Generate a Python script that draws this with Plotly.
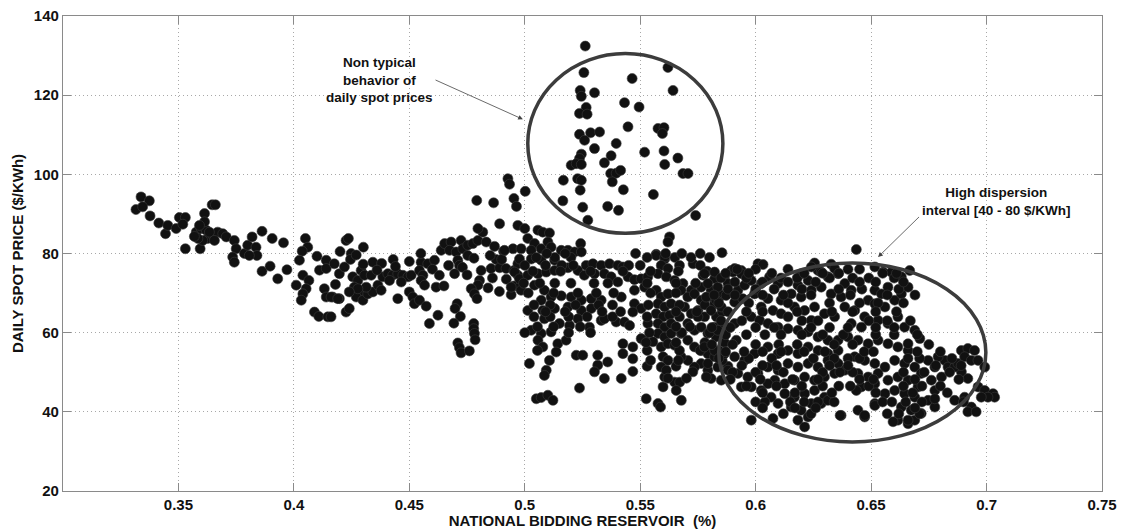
import plotly.graph_objects as go

# Reservoir level (fraction) vs daily spot price ($/KWh)
low_reservoir = [
    (0.3338, 94.3), (0.3374, 93.3), (0.3316, 91.1), (0.3345, 91.8), (0.3377, 89.5), (0.3415, 87.7),
    (0.3444, 85.0), (0.3454, 87.1), (0.349, 86.3), (0.3504, 89.1), (0.353, 89.1), (0.3519, 87.4),
    (0.353, 81.2), (0.3594, 81.2), (0.3613, 90.1), (0.3646, 92.3), (0.366, 92.3), (0.3577, 85.4),
    (0.3598, 86.3), (0.362, 85.9), (0.3627, 83.8), (0.3649, 84.6), (0.367, 85.4), (0.3692, 85.0),
    (0.3707, 84.2), (0.3605, 83.3), (0.3584, 83.8), (0.3569, 84.3), (0.3634, 85.4), (0.3656, 83.3),
    (0.3613, 88.0), (0.3591, 87.1), (0.3742, 83.3), (0.375, 81.2), (0.3735, 79.1), (0.3742, 77.8),
    (0.3786, 80.0), (0.38, 82.1), (0.3819, 84.2), (0.3836, 81.6), (0.384, 79.5), (0.3807, 79.5),
    (0.3862, 85.6), (0.3906, 83.8), (0.3955, 82.7), (0.3862, 75.5), (0.3897, 76.8), (0.393, 73.6),
    (0.397, 75.9), (0.405, 83.8), (0.406, 81.6), (0.4036, 80.6), (0.4024, 78.3), (0.4039, 74.5),
    (0.4065, 73.2), (0.401, 72.0), (0.4053, 71.1), (0.4039, 69.8), (0.4032, 68.2), (0.41, 79.3),
    (0.414, 78.3), (0.4111, 75.8), (0.414, 76.2), (0.4175, 77.4), (0.4197, 74.9), (0.4132, 71.1),
    (0.414, 69.0), (0.4168, 69.0), (0.4197, 68.6), (0.4089, 65.2), (0.4108, 64.1), (0.4147, 64.0),
]

mid_low_reservoir = [
    (0.4219, 76.6), (0.4226, 83.3), (0.4236, 83.8), (0.4248, 80.0), (0.4245, 78.5), (0.4301, 81.6),
    (0.4342, 77.8), (0.4161, 69.0), (0.419, 68.6), (0.4226, 65.2), (0.424, 66.1), (0.4161, 64.0),
    (0.4255, 74.1), (0.4277, 73.2), (0.4262, 71.5), (0.4291, 75.7), (0.4306, 74.5), (0.4335, 74.5),
    (0.4284, 69.8), (0.427, 69.0), (0.4299, 68.2), (0.432, 69.8), (0.4342, 70.3), (0.4364, 72.0),
    (0.4378, 70.7), (0.4313, 71.5), (0.4277, 71.1), (0.4385, 74.1), (0.4407, 74.9), (0.4428, 74.5),
    (0.445, 74.9), (0.4472, 74.5), (0.4494, 74.1), (0.4508, 74.5), (0.4414, 73.2), (0.4465, 72.8),
    (0.445, 68.6), (0.45, 70.3), (0.4515, 69.0), (0.4522, 67.3), (0.4544, 68.2), (0.4573, 66.7),
    (0.4551, 77.8), (0.4544, 75.7), (0.4559, 74.5), (0.4551, 73.2), (0.4566, 72.0), (0.458, 77.4),
    (0.4609, 78.3), (0.4616, 71.5), (0.4587, 62.3), (0.4624, 64.4), (0.4638, 80.8), (0.4653, 82.5),
    (0.4681, 82.9), (0.4674, 80.8), (0.4703, 80.4), (0.471, 78.3), (0.4724, 83.3), (0.4732, 81.2),
    (0.4753, 79.5), (0.4717, 77.0), (0.4696, 74.9), (0.4753, 82.1), (0.4775, 82.5), (0.4797, 83.3),
    (0.4818, 85.4), (0.4797, 86.3), (0.4792, 93.4), (0.4865, 92.8), (0.4833, 82.9), (0.4869, 81.8),
    (0.4891, 87.5), (0.4908, 80.6), (0.4927, 98.9), (0.4934, 97.5), (0.4953, 93.9), (0.4964, 91.9),
    (0.497, 87.1), (0.4949, 81.2), (0.4876, 78.5), (0.4854, 76.2), (0.4891, 76.4), (0.4919, 76.2),
    (0.4953, 75.7), (0.497, 77.4), (0.497, 74.5), (0.4953, 71.8), (0.4941, 69.6), (0.4977, 71.5),
    (0.4811, 75.7), (0.4804, 73.2), (0.4797, 72.0), (0.4768, 71.1), (0.4782, 69.8), (0.4793, 68.6),
    (0.4841, 71.3), (0.4707, 67.3), (0.4698, 66.1), (0.4721, 64.1), (0.4693, 62.4), (0.4779, 62.3),
    (0.4779, 61.0), (0.4782, 59.8), (0.4785, 58.2), (0.471, 57.4), (0.4717, 56.2), (0.4724, 54.9),
    (0.476, 55.4), (0.438, 77.5), (0.443, 78.5), (0.45, 78.0), (0.455, 80.0), (0.46, 76.0),
    (0.463, 74.5), (0.467, 77.0), (0.473, 76.5), (0.485, 79.5), (0.49, 78.5), (0.486, 73.8),
    (0.492, 73.5), (0.489, 70.4), (0.478, 78.8), (0.475, 74.6), (0.465, 71.8), (0.43, 77.3),
    (0.427, 79.6), (0.436, 75.8), (0.444, 76.7), (0.42, 80.5), (0.418, 72.2), (0.424, 70.3),
]

atypical_prices = [
    (0.5262, 132.4), (0.5256, 125.7), (0.5465, 124.2), (0.562, 127.0), (0.524, 121.2), (0.5245, 119.7),
    (0.5302, 120.6), (0.5432, 118.1), (0.5495, 117.0), (0.5642, 121.2), (0.5266, 116.9), (0.5237, 115.4),
    (0.527, 115.2), (0.5447, 112.0), (0.5577, 111.6), (0.5603, 111.8), (0.5596, 110.3), (0.5237, 110.1),
    (0.5285, 110.5), (0.5324, 110.7), (0.5259, 108.6), (0.5396, 107.8), (0.5302, 106.5), (0.5245, 105.1),
    (0.5237, 104.0), (0.5374, 104.7), (0.5519, 105.6), (0.5603, 105.9), (0.5663, 104.1), (0.5201, 102.3),
    (0.5223, 102.7), (0.5245, 102.5), (0.5345, 102.9), (0.5606, 102.5), (0.5372, 100.2), (0.5396, 100.3),
    (0.5415, 101.0), (0.5379, 98.1), (0.5685, 100.2), (0.5707, 100.2), (0.5167, 98.5), (0.5229, 98.9),
    (0.5245, 98.5), (0.524, 96.0), (0.5427, 96.1), (0.5557, 94.9), (0.5165, 93.3), (0.5251, 91.7),
    (0.5359, 91.9), (0.5406, 90.9), (0.5002, 95.7), (0.574, 89.6), (0.5627, 84.2), (0.562, 82.9),
    (0.5273, 88.4),
]

mid_reservoir = [
    (0.5854, 80.2), (0.601, 77.4), (0.6032, 77.2), (0.5729, 77.4), (0.5569, 79.8), (0.5606, 78.6),
    (0.5772, 74.5), (0.5894, 75.7), (0.5938, 75.7), (0.5, 86.3), (0.5057, 85.9), (0.5078, 85.4),
    (0.5107, 85.2), (0.5013, 83.8), (0.5042, 82.5), (0.51, 82.9), (0.4912, 80.8), (0.4984, 81.2),
    (0.5028, 80.8), (0.5071, 81.2), (0.5114, 81.6), (0.5158, 80.8), (0.5187, 80.8), (0.5216, 80.4),
    (0.5242, 82.5), (0.5245, 80.4), (0.4977, 78.6), (0.5028, 78.6), (0.5071, 78.3), (0.5129, 78.3),
    (0.4956, 75.3), (0.4977, 73.6), (0.5013, 74.5), (0.5057, 74.9), (0.5093, 75.3), (0.5129, 75.7),
    (0.5187, 76.4), (0.523, 75.7), (0.5266, 77.0), (0.5295, 77.4), (0.5331, 77.0), (0.5367, 77.4),
    (0.5403, 77.0), (0.5425, 76.6), (0.5258, 74.5), (0.5302, 74.9), (0.5345, 74.9), (0.5374, 74.1),
    (0.5403, 72.8), (0.5447, 74.1), (0.5475, 73.4), (0.5504, 73.6), (0.5533, 74.1), (0.5569, 79.5),
    (0.5606, 79.1), (0.5591, 77.0), (0.562, 76.2), (0.5577, 74.9), (0.5613, 74.1), (0.5649, 73.2),
    (0.5685, 72.4), (0.5822, 73.6), (0.5721, 70.7), (0.5764, 71.5), (0.5807, 70.7), (0.5844, 69.0),
    (0.4941, 71.5), (0.4984, 70.7), (0.5042, 72.0), (0.5085, 70.7), (0.5114, 69.0), (0.5158, 69.3),
    (0.5201, 69.0), (0.5245, 68.2), (0.5288, 68.6), (0.5331, 68.2), (0.5071, 68.2), (0.5013, 65.6),
    (0.5078, 65.6), (0.5129, 66.1), (0.5187, 66.5), (0.5245, 65.6), (0.5288, 66.1), (0.5085, 63.5),
    (0.515, 62.3), (0.5194, 61.8), (0.523, 63.5), (0.528, 61.4), (0.5331, 63.1), (0.5345, 63.5),
    (0.5396, 62.7), (0.5432, 62.7), (0.5454, 61.8), (0.5475, 67.3), (0.5504, 66.1), (0.5468, 65.2),
    (0.5418, 69.0), (0.5475, 70.7), (0.5519, 71.5), (0.5028, 60.6), (0.5071, 59.8), (0.5114, 60.2),
    (0.5057, 58.1), (0.5078, 56.4), (0.5143, 57.2), (0.5179, 58.1), (0.5136, 55.1), (0.502, 52.2),
    (0.5093, 50.5), (0.5107, 53.0), (0.5085, 49.2), (0.5223, 54.3), (0.5251, 54.3), (0.5316, 54.3),
    (0.5316, 51.8), (0.5302, 50.1), (0.5359, 52.6), (0.5345, 48.4), (0.5425, 57.2), (0.5425, 54.7),
    (0.5468, 56.4), (0.5468, 53.4), (0.5468, 50.2), (0.5418, 48.4), (0.5237, 46.0), (0.505, 43.3),
    (0.5071, 43.6), (0.51, 44.2), (0.5122, 42.9), (0.5526, 43.3), (0.5577, 42.1), (0.5588, 41.2),
    (0.5599, 46.3), (0.5606, 48.8), (0.5649, 47.5), (0.5671, 47.5), (0.5656, 45.4), (0.5678, 42.9),
    (0.5569, 70.7), (0.5591, 69.0), (0.562, 69.8), (0.5577, 67.3), (0.5606, 66.5), (0.5634, 67.3),
    (0.5569, 64.8), (0.5599, 64.0), (0.5627, 64.4), (0.5577, 62.3), (0.5606, 61.4), (0.5634, 62.3),
    (0.5577, 59.8), (0.5606, 58.9), (0.5634, 59.8), (0.5591, 56.4), (0.562, 57.2), (0.5649, 56.8),
    (0.5599, 53.9), (0.562, 53.0), (0.5591, 51.3), (0.5613, 50.5), (0.5555, 57.7), (0.5519, 58.1),
    (0.5533, 62.3), (0.5504, 58.5), (0.5677, 70.7), (0.5706, 69.0), (0.5735, 69.8), (0.5764, 68.2),
    (0.5793, 69.0), (0.5822, 67.3), (0.5692, 66.5), (0.5721, 64.8), (0.575, 65.6), (0.5779, 64.0),
    (0.5706, 62.3), (0.5735, 60.6), (0.5764, 61.4), (0.5793, 59.8), (0.5677, 59.8), (0.5706, 58.1),
    (0.5735, 56.4), (0.5764, 55.5), (0.5793, 54.7), (0.5822, 53.9), (0.5764, 52.2), (0.5793, 50.5),
    (0.5735, 51.3), (0.5706, 53.0), (0.5677, 53.9), (0.5822, 61.4), (0.5829, 58.9), (0.5807, 48.4),
    (0.5728, 50.1),
    (0.505, 79.0), (0.513, 79.0), (0.52, 79.0), (0.553, 79.0), (0.565, 79.0), (0.572, 79.0), (0.58, 79.0),
    (0.5, 77.0), (0.509, 77.0), (0.516, 77.0), (0.521, 77.0), (0.545, 77.0), (0.55, 77.0), (0.567, 77.0),
    (0.576, 77.0), (0.4995, 72.5), (0.5065, 72.5), (0.513, 72.5), (0.52, 72.5), (0.53, 72.5),
    (0.536, 72.5), (0.553, 72.5), (0.5655, 72.5), (0.574, 72.5), (0.504, 67.0), (0.511, 67.0),
    (0.522, 67.0), (0.532, 67.0), (0.538, 67.0), (0.5535, 67.0), (0.567, 67.0), (0.578, 67.0),
    (0.504, 64.0), (0.511, 64.0), (0.519, 64.0), (0.527, 64.0), (0.538, 64.0), (0.553, 64.0),
    (0.567, 64.0), (0.575, 64.0), (0.583, 64.0), (0.5, 60.0), (0.519, 60.0), (0.5285, 60.0),
    (0.554, 60.0), (0.568, 60.0), (0.58, 60.0), (0.5055, 55.5), (0.553, 55.5), (0.567, 55.5),
    (0.576, 55.5), (0.584, 55.5), (0.553, 51.5), (0.5655, 51.5), (0.588, 51.5), (0.562, 48.5),
    (0.57, 48.5),
    (0.5095, 80.0), (0.5175, 80.0), (0.548, 80.0), (0.561, 80.0), (0.568, 80.0), (0.576, 80.0),
    (0.5035, 75.5), (0.5155, 75.5), (0.5285, 75.5), (0.5425, 75.5), (0.5545, 75.5), (0.5665, 75.5),
    (0.579, 75.5), (0.5015, 70.0), (0.5125, 70.0), (0.523, 70.0), (0.531, 70.0), (0.5385, 70.0),
    (0.5545, 70.0), (0.5655, 70.0), (0.584, 70.0), (0.509, 65.3), (0.5175, 65.3), (0.5335, 65.3),
    (0.5415, 65.3), (0.5655, 65.3), (0.5745, 65.3), (0.5855, 65.3), (0.5055, 61.5), (0.5125, 61.5),
    (0.524, 61.5), (0.5655, 61.5), (0.5715, 61.5), (0.5855, 61.5), (0.5525, 57.5), (0.5655, 57.5),
    (0.578, 57.5), (0.5865, 57.5), (0.5545, 53.0), (0.5665, 53.0), (0.5855, 53.0),
]

high_reservoir = [
    (0.6436, 81.0), (0.6255, 77.6), (0.6327, 77.3), (0.5778, 74.9), (0.5822, 75.3), (0.5865, 74.1),
    (0.5902, 75.3), (0.5938, 74.9), (0.5793, 72.4), (0.5836, 71.5), (0.588, 72.4), (0.5923, 70.7),
    (0.5952, 72.0), (0.5786, 69.0), (0.5829, 68.2), (0.5872, 69.4), (0.5909, 67.7), (0.5944, 68.6),
    (0.5807, 65.6), (0.5851, 66.5), (0.5981, 73.2), (0.6024, 72.4), (0.606, 74.1), (0.6097, 72.4),
    (0.5995, 69.8), (0.6053, 68.6), (0.611, 68.2), (0.6024, 66.5), (0.6075, 65.6), (0.611, 64.8),
    (0.614, 64.0), (0.5981, 64.0), (0.6017, 63.1), (0.6053, 62.3), (0.6097, 61.4), (0.614, 61.0),
    (0.6183, 60.6), (0.6227, 60.2), (0.627, 58.9), (0.6313, 58.1), (0.6357, 58.1), (0.64, 58.9),
    (0.6443, 58.1), (0.6487, 57.2), (0.653, 58.1), (0.6573, 57.2), (0.6616, 56.4), (0.666, 55.5),
    (0.6197, 74.9), (0.6227, 73.2), (0.627, 75.7), (0.6313, 74.1), (0.6357, 74.9), (0.6386, 72.4),
    (0.6241, 70.7), (0.6284, 71.5), (0.6327, 69.8), (0.637, 69.0), (0.6414, 70.7), (0.6197, 69.0),
    (0.6168, 66.5), (0.6212, 65.6), (0.6255, 66.5), (0.6298, 64.8), (0.6342, 64.0), (0.6386, 66.5),
    (0.6429, 65.6), (0.6472, 64.0), (0.6487, 68.2), (0.6516, 70.7), (0.6545, 69.8), (0.6573, 71.5),
    (0.6516, 67.3), (0.656, 66.5), (0.6602, 68.2), (0.6631, 69.8), (0.666, 71.5), (0.653, 63.1),
    (0.6573, 62.3), (0.6616, 64.0), (0.6645, 61.4), (0.6689, 60.6), (0.6458, 61.4), (0.6414, 62.3),
    (0.6241, 63.1), (0.6183, 72.0), (0.6154, 69.8), (0.6241, 76.6), (0.6284, 75.3), (0.6342, 76.2),
    (0.6516, 76.6), (0.6552, 75.3), (0.6588, 75.3), (0.6631, 74.1), (0.6667, 75.7), (0.6053, 56.4),
    (0.6097, 54.7), (0.614, 55.5), (0.6183, 54.7), (0.6227, 56.4), (0.627, 55.5), (0.6313, 54.7),
    (0.6357, 55.5), (0.6053, 51.3), (0.6097, 50.5), (0.614, 52.2), (0.6183, 51.3), (0.6227, 52.2),
    (0.627, 51.3), (0.6313, 53.0), (0.6357, 52.2), (0.6083, 48.0), (0.6126, 47.1), (0.6168, 48.0),
    (0.6212, 48.8), (0.6255, 48.0), (0.6298, 48.8), (0.6342, 49.7), (0.6386, 50.5), (0.6126, 44.6),
    (0.6168, 43.7), (0.6212, 44.6), (0.6255, 45.4), (0.6298, 43.7), (0.6154, 41.2), (0.6197, 40.4),
    (0.6227, 38.7), (0.6183, 37.9), (0.6212, 36.2), (0.6241, 42.1), (0.6284, 42.1), (0.6313, 42.9),
    (0.5778, 56.4), (0.5822, 55.5), (0.5865, 54.7), (0.5909, 53.9), (0.5952, 53.0), (0.5995, 54.7),
    (0.5793, 52.2), (0.5836, 51.3), (0.588, 50.5), (0.5923, 49.7), (0.5966, 48.8), (0.601, 49.7),
    (0.5786, 48.8), (0.6053, 47.1), (0.6024, 45.4), (0.5981, 46.3), (0.6067, 43.7), (0.6097, 42.1),
    (0.5981, 37.9), (0.6075, 38.3), (0.5938, 46.3), (0.5851, 48.0), (0.5916, 58.1), (0.5909, 62.3),
    (0.5836, 60.6), (0.5909, 76.2), (0.6429, 53.9), (0.6472, 53.0), (0.6516, 52.2), (0.656, 51.3),
    (0.6602, 53.0), (0.6645, 52.2), (0.6689, 51.3), (0.6443, 49.7), (0.6487, 48.8), (0.653, 49.7),
    (0.6573, 48.0), (0.6616, 48.8), (0.666, 48.0), (0.6458, 46.3), (0.6516, 47.1), (0.656, 44.6),
    (0.6602, 45.4), (0.6645, 44.6), (0.6689, 43.7), (0.6631, 41.2), (0.6674, 40.4), (0.6616, 37.9),
    (0.666, 37.0), (0.6443, 40.4), (0.6472, 38.7), (0.637, 39.1), (0.6436, 45.4), (0.6516, 42.1),
    (0.6747, 53.0), (0.6776, 51.3), (0.6819, 53.0), (0.6833, 51.3), (0.679, 53.9), (0.6891, 55.5),
    (0.6919, 56.0), (0.6948, 55.5), (0.6905, 53.9), (0.6934, 53.0), (0.6963, 53.0), (0.6992, 51.3),
    (0.6891, 50.1), (0.6919, 48.4), (0.6717, 49.7), (0.6761, 48.0), (0.6805, 48.8), (0.6703, 46.3),
    (0.6776, 45.4), (0.6747, 42.9), (0.6776, 41.2), (0.6717, 39.6), (0.6689, 37.9), (0.6862, 42.9),
    (0.6963, 46.3), (0.6992, 45.4), (0.7028, 44.6), (0.7035, 43.7), (0.7006, 43.7), (0.6977, 43.7),
    (0.6934, 41.2), (0.6919, 40.0), (0.6955, 40.0), (0.6905, 43.7), (0.6595, 37.5), (0.666, 37.9),
    (0.6516, 41.6), (0.6472, 39.1), (0.6366, 39.1), (0.6711, 58.5), (0.666, 57.2), (0.6862, 51.3),
    (0.6876, 52.2), (0.6776, 43.3),
    (0.592, 76.0), (0.6, 76.0), (0.614, 76.0), (0.64, 76.0), (0.645, 76.0),
    (0.585, 73.8), (0.596, 73.8), (0.611, 73.8), (0.618, 73.8), (0.632, 73.8), (0.642, 73.8),
    (0.649, 73.8), (0.66, 73.8), (0.588, 71.0), (0.6, 71.0), (0.608, 71.0), (0.62, 71.0),
    (0.636, 71.0), (0.646, 71.0), (0.662, 71.0), (0.584, 67.5), (0.597, 67.5), (0.614, 67.5),
    (0.632, 67.5), (0.645, 67.5), (0.653, 67.5), (0.664, 67.5), (0.585, 63.0), (0.594, 63.0),
    (0.62, 63.0), (0.627, 63.0), (0.649, 63.0), (0.657, 63.0), (0.667, 63.0), (0.587, 59.5),
    (0.596, 59.5), (0.604, 59.5), (0.611, 59.5), (0.62, 59.5), (0.629, 59.5), (0.638, 59.5),
    (0.652, 59.5), (0.66, 59.5), (0.67, 59.5), (0.581, 57.0), (0.59, 57.0), (0.6, 57.0),
    (0.61, 57.0), (0.618, 57.0), (0.634, 57.0), (0.642, 57.0), (0.675, 57.0), (0.584, 53.5),
    (0.597, 53.5), (0.607, 53.5), (0.625, 53.5), (0.634, 53.5), (0.64, 53.5), (0.645, 53.5),
    (0.666, 53.5), (0.671, 53.5), (0.685, 53.5), (0.59, 50.0), (0.6, 50.0), (0.612, 50.0),
    (0.629, 50.0), (0.6365, 50.0), (0.642, 50.0), (0.664, 50.0), (0.673, 50.0), (0.684, 50.0),
    (0.596, 46.5), (0.609, 46.5), (0.62, 46.5), (0.629, 46.5), (0.636, 46.5), (0.641, 46.5),
    (0.649, 46.5), (0.664, 46.5), (0.672, 46.5), (0.68, 46.5), (0.6, 42.5), (0.604, 42.5),
    (0.615, 42.5), (0.621, 42.5), (0.627, 42.5), (0.634, 42.5), (0.655, 42.5), (0.659, 42.5),
    (0.665, 42.5), (0.672, 42.5), (0.69, 42.5), (0.612, 39.5), (0.624, 39.5), (0.657, 39.5),
    (0.662, 39.5), (0.671, 39.5),
    (0.587, 75.0), (0.597, 75.0), (0.607, 75.0), (0.621, 75.0), (0.629, 75.0), (0.636, 75.0),
    (0.655, 75.0), (0.661, 75.0), (0.591, 72.8), (0.603, 72.8), (0.614, 72.8), (0.626, 72.8),
    (0.645, 72.8), (0.652, 72.8), (0.664, 72.8), (0.582, 69.5), (0.591, 69.5), (0.603, 69.5),
    (0.612, 69.5), (0.624, 69.5), (0.641, 69.5), (0.657, 69.5), (0.669, 69.5), (0.588, 65.3),
    (0.596, 65.3), (0.603, 65.3), (0.618, 65.3), (0.633, 65.3), (0.642, 65.3), (0.652, 65.3),
    (0.661, 65.3), (0.581, 61.3), (0.589, 61.3), (0.6, 61.3), (0.608, 61.3), (0.624, 61.3),
    (0.632, 61.3), (0.64, 61.3), (0.652, 61.3), (0.66, 61.3), (0.587, 55.2), (0.595, 55.2),
    (0.603, 55.2), (0.611, 55.2), (0.621, 55.2), (0.63, 55.2), (0.647, 55.2), (0.651, 55.2),
    (0.67, 55.2), (0.68, 55.2), (0.594, 51.7), (0.603, 51.7), (0.609, 51.7), (0.632, 51.7),
    (0.64, 51.7), (0.678, 51.7), (0.689, 51.7), (0.589, 48.2), (0.602, 48.2), (0.616, 48.2),
    (0.627, 48.2), (0.645, 48.2), (0.651, 48.2), (0.669, 48.2), (0.688, 48.2), (0.603, 44.8),
    (0.617, 44.8), (0.633, 44.8), (0.652, 44.8), (0.668, 44.8), (0.683, 44.8), (0.603, 41.0),
    (0.617, 41.0), (0.626, 41.0), (0.669, 41.0),
]

x_ticks = [0.35, 0.4, 0.45, 0.5, 0.55, 0.6, 0.65, 0.7, 0.75]
x_tick_labels = ["0.35", "0.4", "0.45", "0.5", "0.55", "0.6", "0.65", "0.7", "0.75"]
y_ticks = [20, 40, 60, 80, 100, 120, 140]

groups = [low_reservoir, mid_low_reservoir, atypical_prices, mid_reservoir, high_reservoir]
reservoir = [p[0] for g in groups for p in g]
price = [p[1] for g in groups for p in g]

FONT = "Liberation Sans, Arial, Helvetica, sans-serif"

fig = go.Figure()
fig.add_trace(go.Scatter(
    x=reservoir, y=price, mode="markers", showlegend=False,
    marker=dict(size=10, color="#111111", line=dict(color="#3a3a3a", width=0.6)),
))

# highlight ellipses
fig.add_shape(type="circle", xref="x", yref="y", x0=0.5013, x1=0.5858, y0=85.1, y1=130.5,
              line=dict(color="#3c3c3c", width=3.5), layer="above")
fig.add_shape(type="circle", xref="x", yref="y", x0=0.584, x1=0.6997, y0=32.4, y1=77.6,
              line=dict(color="#3c3c3c", width=3.5), layer="above")

ann_font = dict(family=FONT, size=13.5, color="#111111", weight="bold")
fig.add_annotation(x=0.4369, y=123.8, xref="x", yref="y", showarrow=False,
                   text="Non typical<br>behavior of<br>daily spot prices", font=ann_font, align="center")
fig.add_annotation(x=0.4992, y=113.9, ax=0.4607, ay=124.0, xref="x", yref="y", axref="x", ayref="y",
                   text="", showarrow=True, arrowhead=2, arrowsize=1.2, arrowwidth=0.8, arrowcolor="#444444")
fig.add_annotation(x=0.7042, y=93.2, xref="x", yref="y", showarrow=False,
                   text="High dispersion<br>interval [40 - 80 $/KWh]", font=ann_font, align="center")
fig.add_annotation(x=0.653, y=79.1, ax=0.6714, ay=89.6, xref="x", yref="y", axref="x", ayref="y",
                   text="", showarrow=True, arrowhead=2, arrowsize=1.2, arrowwidth=0.8, arrowcolor="#444444")

axis_common = dict(
    showline=True, linecolor="#8a8a8a", linewidth=1.2, mirror="ticks",
    ticks="inside", ticklen=8, tickcolor="#8a8a8a", tickwidth=1,
    showgrid=True, gridcolor="#a8a8a8", griddash="1px,3px", gridwidth=1,
    zeroline=False, automargin=False,
    tickfont=dict(family=FONT, size=15, color="#111111", weight="bold"),
)

fig.update_layout(
    width=1121, height=529,
    margin=dict(l=63, r=19, t=16, b=38),
    paper_bgcolor="white", plot_bgcolor="white",
    xaxis=dict(range=[0.3, 0.75], tickvals=x_ticks, ticktext=x_tick_labels, ticklabelstandoff=0,
               title=dict(text="NATIONAL BIDDING RESERVOIR  (%)", standoff=0,
                          font=dict(family=FONT, size=15, color="#111111", weight="bold")),
               **axis_common),
    yaxis=dict(range=[20, 140], tickvals=y_ticks,
               title=dict(text="DAILY SPOT PRICE ($/KWh)", standoff=6,
                          font=dict(family=FONT, size=15, color="#111111", weight="bold")),
               **axis_common),
)

fig.write_html("out.html")
